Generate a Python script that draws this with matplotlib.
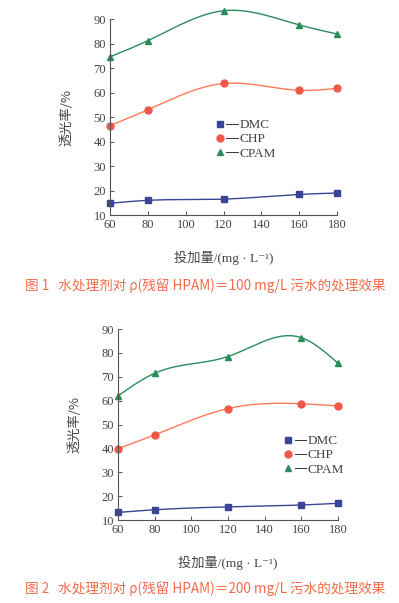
import numpy as np
import matplotlib.pyplot as plt
from matplotlib.legend_handler import HandlerBase
from matplotlib.lines import Line2D

plt.rcParams['font.family'] = ['Liberation Serif', 'Noto Sans CJK SC']

# data
dose = [60, 80, 120, 160, 180]
xticks = [60, 80, 100, 120, 140, 160, 180]
yticks = [10, 20, 30, 40, 50, 60, 70, 80, 90]

dmc_100 = [14.8, 16.0, 16.5, 18.4, 19.0]
chp_100 = [46.5, 53.0, 63.7, 60.9, 61.7]
cpam_100 = [74.6, 81.2, 93.4, 87.6, 83.9]

dmc_200 = [13.2, 14.3, 15.5, 16.3, 17.0]
chp_200 = [39.9, 45.7, 56.7, 58.7, 57.8]
cpam_200 = [62.0, 71.5, 78.5, 86.4, 75.7]

captions = ["图 1   水处理剂对 ρ(残留 HPAM)＝100 mg/L 污水的处理效果",
            "图 2   水处理剂对 ρ(残留 HPAM)＝200 mg/L 污水的处理效果"]

blue = '#3b4596'
red = '#f0584a'
red_line = '#ff7a5a'
green = '#2a8c5c'
cap_color = '#f26b4a'
txt = '#444444'


def spline(x, y, n=200):
    # natural cubic spline, only for drawing the smooth curve
    x = np.asarray(x, float); y = np.asarray(y, float)
    k = len(x); h = np.diff(x)
    A = np.zeros((k, k)); b = np.zeros(k)
    A[0, 0] = A[-1, -1] = 1
    for i in range(1, k - 1):
        A[i, i - 1] = h[i - 1]; A[i, i] = 2 * (h[i - 1] + h[i]); A[i, i + 1] = h[i]
        b[i] = 6 * ((y[i + 1] - y[i]) / h[i] - (y[i] - y[i - 1]) / h[i - 1])
    M = np.linalg.solve(A, b)
    xs = np.linspace(x[0], x[-1], n)
    j = np.clip(np.searchsorted(x, xs) - 1, 0, k - 2)
    t0 = x[j + 1] - xs; t1 = xs - x[j]; hh = h[j]
    ys = (M[j] * t0**3 + M[j + 1] * t1**3) / (6 * hh) \
        + (y[j] / hh - M[j] * hh / 6) * t0 + (y[j + 1] / hh - M[j + 1] * hh / 6) * t1
    return xs, ys


class MarkerFirst(HandlerBase):
    def create_artists(self, legend, orig, xd, yd, width, height, fontsize, trans):
        y = height / 2 - yd
        ln = Line2D([width * 0.45, width], [y, y], color='#333333', lw=0.7, transform=trans)
        mk = Line2D([width * 0.15], [y], marker=orig.get_marker(), ls='none',
                    color=orig.get_markerfacecolor(), ms=orig.get_markersize(), transform=trans)
        return [ln, mk]


fig = plt.figure(figsize=(3.99, 6.03), dpi=100)
axes = [fig.add_axes([0.276, 0.6434, 0.569, 0.325]),
        fig.add_axes([0.296, 0.1376, 0.551, 0.3167])]
sets = [(dmc_100, chp_100, cpam_100), (dmc_200, chp_200, cpam_200)]
leg_pos = [(0.47, 0.49), (0.76, 0.445)]

for n, (ax, (dmc, chp, cpam)) in enumerate(zip(axes, sets)):
    handles = []
    for vals, lc, mc, m, ms, lab in [(dmc, blue, blue, 's', 4.5, 'DMC'),
                                     (chp, red_line, red, 'o', 5, 'CHP'),
                                     (cpam, green, green, '^', 3.8, 'CPAM')]:
        xs, ys = spline(dose, vals)
        ax.plot(xs, ys, color=lc, lw=1.0, clip_on=False)
        h, = ax.plot(dose, vals, ls='none', marker=m, ms=ms, color=mc, clip_on=False, label=lab)
        handles.append(h)
    ax.set_xlim(60, 180)
    ax.set_ylim(10, 90)
    ax.set_xticks(xticks)
    ax.set_yticks(yticks)
    for s in ['top', 'right']:
        ax.spines[s].set_visible(False)
    for s in ['left', 'bottom']:
        ax.spines[s].set_color('#555555')
        ax.spines[s].set_linewidth(0.8)
    ax.tick_params(direction='in', length=3, width=0.7, colors='#555555',
                   labelsize=9, labelcolor=txt, pad=3)
    ax.set_ylabel('透光率/%', fontsize=9.5, color=txt, family='Noto Sans CJK SC', labelpad=14)
    ax.set_xlabel('投加量/(mg · L⁻¹)', fontsize=9.5, color=txt,
                  family=['Liberation Serif', 'Noto Sans CJK SC', 'DejaVu Sans'], labelpad=14)
    ax.legend(handles=handles, handler_map={Line2D: MarkerFirst()}, loc='upper left',
              bbox_to_anchor=leg_pos[n], frameon=False, fontsize=9.5, handlelength=1.6,
              handletextpad=0.1, labelspacing=0.15, borderpad=0, borderaxespad=0,
              labelcolor=txt)

fig.text(0.062, 1 - 286 / 603, captions[0], fontsize=9.8, color=cap_color,
         family='Noto Sans CJK SC', va='center', ha='left')
fig.text(0.062, 1 - 589 / 603, captions[1], fontsize=9.8, color=cap_color,
         family='Noto Sans CJK SC', va='center', ha='left')

fig.savefig('out.png', dpi=100)
